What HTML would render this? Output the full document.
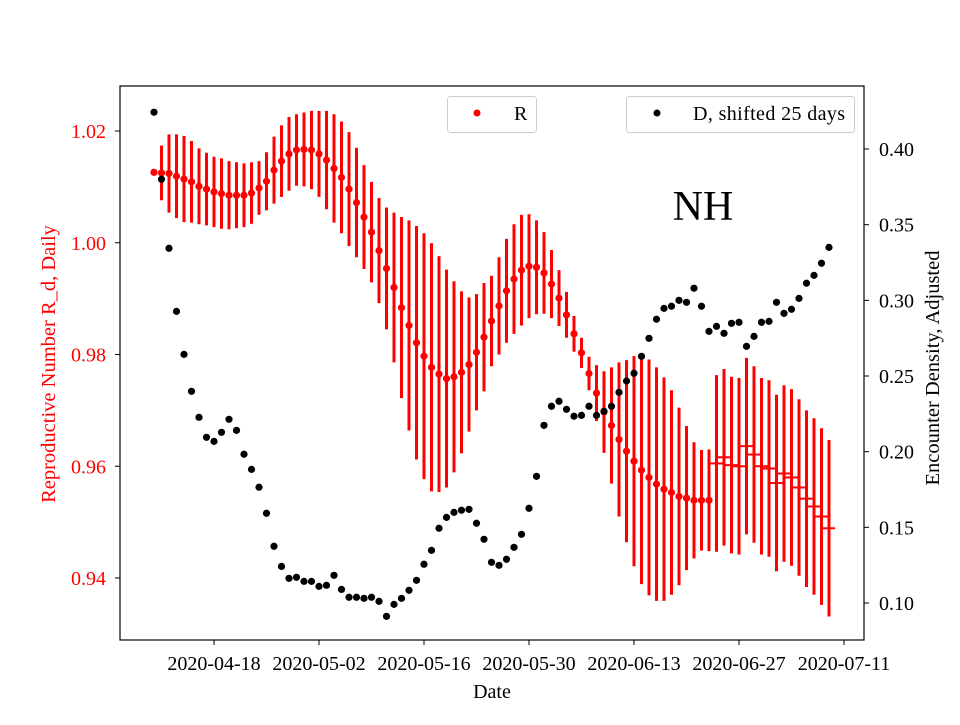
<!DOCTYPE html>
<html><head><meta charset="utf-8"><style>
body{margin:0;background:#fff}
svg text{font-family:"Liberation Serif",serif}
</style></head><body>
<svg id="chart" width="960" height="720" viewBox="0 0 960 720" xmlns="http://www.w3.org/2000/svg">
<rect width="960" height="720" fill="#fff"/>
<g id="marks"></g>
<rect x="120" y="86" width="744" height="554" fill="none" stroke="#000" stroke-width="1.2"/>
<g id="axes"></g>
<text transform="translate(55,364) rotate(-90)" text-anchor="middle" font-size="20.5" fill="#f00">Reproductive Number R_d, Daily</text>
<text transform="translate(939,368) rotate(-90)" text-anchor="middle" font-size="20.5" fill="#000">Encounter Density, Adjusted</text>
<text x="492" y="698" text-anchor="middle" font-size="20">Date</text>
<text x="703" y="220" text-anchor="middle" font-size="42">NH</text>
<g>
<rect x="447.5" y="96.5" width="89" height="36" rx="3" fill="#fff" stroke="#ccc"/>
<circle cx="477" cy="113" r="3.5" fill="#f00"/>
<text x="514" y="120" font-size="20">R</text>
</g>
<g>
<rect x="626.5" y="96.5" width="228" height="36" rx="3" fill="#fff" stroke="#ccc"/>
<circle cx="657" cy="113" r="3.5" fill="#000"/>
<text x="693" y="120" font-size="20" textLength="152">D, shifted 25 days</text>
</g>
</svg>
<script>
const startDate = "2020-04-10";
const rValues = [1.0126,1.0125,1.0124,1.0119,1.0114,1.0109,1.0101,1.0096,1.0091,1.0088,1.0085,1.0085,1.0085,1.0089,1.0098,1.0110,1.0130,1.0146,1.0159,1.0166,1.0167,1.0166,1.0159,1.0148,1.0133,1.0117,1.0096,1.0072,1.0046,1.0019,0.9986,0.9954,0.9920,0.9884,0.9852,0.9821,0.9797,0.9777,0.9765,0.9757,0.9760,0.9768,0.9782,0.9804,0.9831,0.9860,0.9887,0.9914,0.9935,0.9951,0.9958,0.9956,0.9946,0.9926,0.9901,0.9871,0.9837,0.9803,0.9766,0.9731,0.9697,0.9673,0.9648,0.9627,0.9609,0.9593,0.9580,0.9568,0.9559,0.9553,0.9546,0.9543,0.9539,0.9539,0.9539,0.9605,0.9616,0.9602,0.9600,0.9636,0.9621,0.9600,0.9596,0.9570,0.9587,0.9580,0.9562,0.9542,0.9528,0.9510,0.9489];
const rErrors = [0.0002,0.0049,0.0070,0.0075,0.0077,0.0073,0.0068,0.0065,0.0063,0.0063,0.0061,0.0059,0.0057,0.0055,0.0048,0.0052,0.0060,0.0064,0.0066,0.0064,0.0066,0.0070,0.0077,0.0088,0.0097,0.0100,0.0102,0.0098,0.0093,0.0090,0.0094,0.0109,0.0134,0.0162,0.0188,0.0209,0.0220,0.0222,0.0211,0.0195,0.0171,0.0145,0.0120,0.0104,0.0097,0.0081,0.0087,0.0093,0.0098,0.0099,0.0093,0.0084,0.0073,0.0061,0.0050,0.0041,0.0032,0.0027,0.0030,0.0050,0.0073,0.0104,0.0138,0.0163,0.0188,0.0204,0.0211,0.0209,0.0200,0.0183,0.0159,0.0129,0.0104,0.0090,0.0091,0.0158,0.0158,0.0158,0.0158,0.0158,0.0158,0.0158,0.0158,0.0158,0.0158,0.0158,0.0158,0.0158,0.0158,0.0158,0.0158];
const rDotCount = 75;
const dValues = [0.4243,0.3800,0.3344,0.2927,0.2643,0.2399,0.2227,0.2095,0.2068,0.2128,0.2214,0.2141,0.1983,0.1883,0.1765,0.1593,0.1375,0.1242,0.1163,0.1170,0.1143,0.1143,0.1110,0.1117,0.1183,0.1090,0.1038,0.1038,0.1031,0.1038,0.1011,0.0912,0.0991,0.1031,0.1084,0.1150,0.1256,0.1348,0.1494,0.1566,0.1599,0.1613,0.1619,0.1527,0.1421,0.1269,0.1249,0.1289,0.1368,0.1454,0.1626,0.1837,0.2174,0.2300,0.2333,0.2280,0.2234,0.2240,0.2300,0.2240,0.2267,0.2300,0.2392,0.2467,0.2518,0.2630,0.2749,0.2875,0.2947,0.2961,0.3000,0.2987,0.3080,0.2961,0.2795,0.2828,0.2782,0.2848,0.2855,0.2696,0.2762,0.2855,0.2861,0.2987,0.2914,0.2941,0.3013,0.3113,0.3165,0.3245,0.3350];
const xTickLabels = ["2020-04-18","2020-05-02","2020-05-16","2020-05-30","2020-06-13","2020-06-27","2020-07-11"];
const leftTicks = [0.94,0.96,0.98,1.00,1.02];
const rightTicks = [0.10,0.15,0.20,0.25,0.30,0.35,0.40];

const NS="http://www.w3.org/2000/svg";
const t0=Date.parse(startDate);
function dayOf(s){return Math.round((Date.parse(s)-t0)/86400000);}
function xScale(d){return 214+(d-8)*7.5;}
function yLeft(v){return 131+(1.02-v)/0.02*111.75;}
function yRight(v){return 149+(0.40-v)/0.05*75.67;}
function mk(tag,attrs,parent){const e=document.createElementNS(NS,tag);for(const k in attrs)e.setAttribute(k,attrs[k]);parent.appendChild(e);return e;}
const marks=document.getElementById('marks');
const axes=document.getElementById('axes');

rValues.forEach((v,i)=>{
  const x=xScale(i), e=rErrors[i];
  const bar=mk('line',{x1:x,x2:x,y1:yLeft(v+e),y2:yLeft(v-e),stroke:'#f00','stroke-width':3},marks);
  
  
  if(i<rDotCount){
    const c=mk('circle',{cx:x,cy:yLeft(v),r:3.6,fill:'#f00'},marks);
    
    
  } else {
    const m=mk('line',{x1:x-6,x2:x+6,y1:yLeft(v),y2:yLeft(v),stroke:'#f00','stroke-width':2},marks);
    
    
  }
});
dValues.forEach((v,i)=>{
  const c=mk('circle',{cx:xScale(i),cy:yRight(v),r:3.6,fill:'#000'},marks);
  
  
});
xTickLabels.forEach(s=>{
  const x=xScale(dayOf(s));
  const tk=mk('line',{x1:x,x2:x,y1:640,y2:645,stroke:'#000'},axes);
  
  
  const t=mk('text',{x:x,y:670,'text-anchor':'middle','font-size':20},axes);
  t.textContent=s;
  
  
});
leftTicks.forEach(v=>{
  const y=yLeft(v);
  const tk=mk('line',{x1:115,x2:120,y1:y,y2:y,stroke:'#000'},axes);
  
  
  const t=mk('text',{x:106,y:y+7,'text-anchor':'end','font-size':20,fill:'#f00'},axes);
  t.textContent=v.toFixed(2);
  
  
});
rightTicks.forEach(v=>{
  const y=yRight(v);
  const tk=mk('line',{x1:864,x2:869,y1:y,y2:y,stroke:'#000'},axes);
  
  
  const t=mk('text',{x:879,y:y+7,'text-anchor':'start','font-size':20},axes);
  t.textContent=v.toFixed(2);
  
  
});
</script>
</body></html>
